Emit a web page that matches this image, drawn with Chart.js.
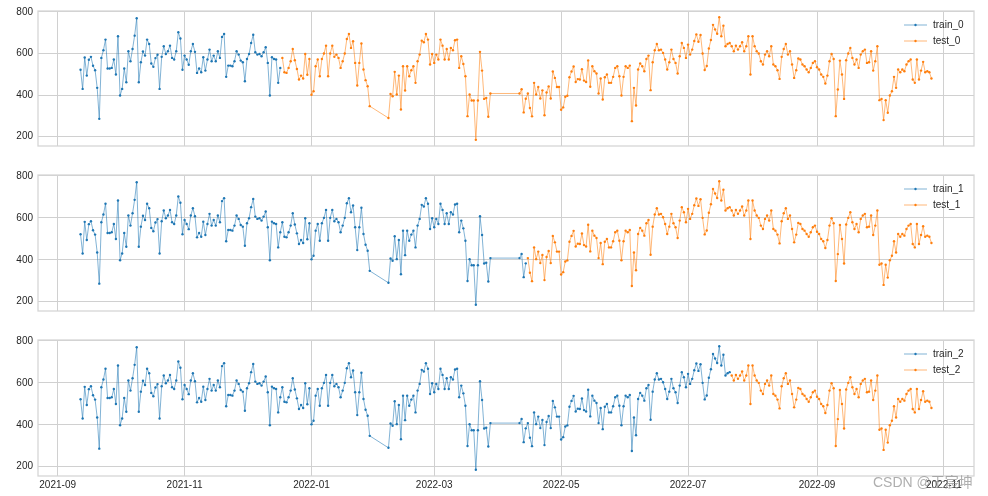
<!DOCTYPE html>
<html>
<head>
<meta charset="utf-8">
<script src="https://cdn.jsdelivr.net/npm/chart.js@4.4.1/dist/chart.umd.min.js"></script>
<style>
  html, body { margin: 0; padding: 0; background: #fff; }
  #wrap { position: relative; width: 988px; height: 496px; background: #fff; }
  #wrap canvas { position: absolute; left: 0; }
  #mark { position: absolute; left: 873px; top: 471px; font: 14px "Liberation Sans", "Noto Sans CJK SC", sans-serif; color: rgba(140,140,140,0.7); white-space: nowrap; }
</style>
</head>
<body>
<div id="wrap">
  <canvas id="c0" width="988" height="160" style="top:0px"></canvas>
  <canvas id="c1" width="988" height="161" style="top:164px"></canvas>
  <canvas id="c2" width="988" height="167" style="top:329px"></canvas>
  <div id="mark">CSDN @王宸坤</div>
</div>
<script>
// daily series, three runs of consecutive days (holiday / missing days between them)
const segStarts = ["2021-09-12", "2022-02-07", "2022-04-11"];
const segA = [
  522, 430, 581, 494, 570, 584, 541, 520, 435, 286, 579, 616, 667, 528, 528, 531, 571, 499, 683, 398,
  430, 528, 462, 611, 563, 622, 686, 770, 462, 558, 610, 590, 667, 646, 552, 536, 578, 594, 430, 584,
  635, 598, 611, 638, 579, 571, 611, 702, 672, 522, 590, 571, 546, 611, 646, 608, 507, 528,
  510, 582, 518, 571, 619, 563, 590, 563, 611, 579, 680, 694, 488, 542, 542, 539, 563, 611, 595, 566,
  558, 467, 574, 598, 651, 690, 606, 595, 598, 587, 606, 630, 555, 398, 582, 574, 571, 459, 531,
  579, 510, 507, 531, 563, 622, 568, 526, 475, 494, 480, 598, 498, 574, 402, 419, 539, 571, 491, 574,
  600, 638, 491, 600, 638, 584, 595, 579, 531, 563, 600, 670, 694, 627, 659, 555, 446, 555, 648, 523,
  472, 443, 347
];
const segB = [
  290, 406, 395, 512, 403, 494, 331, 539, 422, 539, 491, 520, 539, 459, 563, 595, 662, 654, 694, 667,
  547, 598, 555, 595, 571, 667, 638, 571, 622, 571, 627, 616, 664, 667, 531, 587, 550, 491, 299, 403,
  374, 374, 185, 374, 608, 518, 382, 386, 296, 408
];
const segC = [
  408, 428, 317, 383, 408, 338, 298, 459, 403, 439, 384, 423, 303, 413, 442, 384, 514, 483, 439, 439,
  330, 341, 392, 397, 486, 514, 538, 463, 477, 475, 525, 470, 463, 567,
  440, 539, 515, 504, 408, 480, 379, 486, 499, 459, 459, 488, 531, 539, 491, 398, 488, 539, 531, 542,
  275, 435, 350, 523, 552, 539, 515, 574, 590,
  424, 558, 616, 646, 616, 619, 603, 571, 523, 558, 619, 574, 555, 504,
  587, 651, 627, 579, 643, 595, 619, 660, 692, 657, 689, 600, 521, 540, 624, 665, 738, 716, 695, 775,
  683, 734, 635, 646, 651, 635, 611, 638, 619, 635, 654, 611, 635, 683, 499, 683, 635, 611, 600, 563,
  547, 595, 611, 587, 635, 547, 539, 520, 478, 584, 622, 646, 595, 611, 547, 483, 520, 576, 571, 547,
  539, 523, 510, 531, 555, 563, 534, 523, 499, 488, 456, 494, 563, 598, 574, 299, 427, 566, 499, 382,
  568, 600, 627, 579, 547, 571, 531, 595, 611, 619, 555, 558, 611, 518, 563, 635, 376, 382, 280, 376,
  315, 398, 419, 488, 435, 523, 510, 523, 515, 547, 563, 571, 475, 459, 571, 475, 518, 560, 510, 515,
  510, 480
];

const trainSizes = [97, 194, 292];
const seriesNames = [["train_0", "test_0"], ["train_1", "test_1"], ["train_2", "test_2"]];
const tickLabels = ["2021-09", "2021-11", "2022-01", "2022-03", "2022-05", "2022-07", "2022-09", "2022-11"];
const yTicks = [200, 400, 600, 800];

const FONT = '"Liberation Sans", Arial, sans-serif';
const DAY = 86400000;
const origin = Date.UTC(2021, 8, 1);

function dayOf(str) {
  const [y, m, d] = str.split("-").map(Number);
  return (Date.UTC(y, m - 1, d || 1) - origin) / DAY;
}

// build x/y points (x = days since 2021-09-01)
const points = [];
[segA, segB, segC].forEach((seg, i) => {
  const start = dayOf(segStarts[i]);
  seg.forEach((v, j) => points.push({ x: start + j, y: v }));
});
const tickPos = tickLabels.map(dayOf);

// matplotlib style 5% margins
const xs = points.map(p => p.x), ys = points.map(p => p.y);
const xPad = (Math.max(...xs) - Math.min(...xs)) * 0.05;
const yPad = (Math.max(...ys) - Math.min(...ys)) * 0.05;
const xMin = Math.min(...xs) - xPad, xMax = Math.max(...xs) + xPad;
const yMin = Math.min(...ys) - yPad, yMax = Math.max(...ys) + yPad;

// axes frame on all four sides
const framePlugin = {
  id: "frame",
  afterDatasetsDraw(chart) {
    const { ctx, chartArea: a } = chart;
    ctx.save();
    ctx.strokeStyle = "#d4d4d4";
    ctx.lineWidth = 1.25;
    ctx.strokeRect(a.left, a.top, a.right - a.left, a.bottom - a.top);
    ctx.restore();
  }
};

// legend inside the plot, upper right
const legendPlugin = {
  id: "innerLegend",
  afterDraw(chart) {
    const { ctx, chartArea: a } = chart;
    ctx.save();
    ctx.font = "10px " + FONT;
    ctx.textBaseline = "middle";
    chart.data.datasets.forEach((ds, i) => {
      const y = a.top + 14 + i * 16;
      const x0 = a.right - 70;
      ctx.strokeStyle = ds.borderColor;
      ctx.lineWidth = 0.8;
      ctx.beginPath();
      ctx.moveTo(x0, y);
      ctx.lineTo(x0 + 23, y);
      ctx.stroke();
      ctx.fillStyle = ds.pointBackgroundColor;
      ctx.beginPath();
      ctx.arc(x0 + 11.5, y, 1.2, 0, Math.PI * 2);
      ctx.fill();
      ctx.fillStyle = "#262626";
      ctx.fillText(ds.label, a.right - 41, y);
    });
    ctx.restore();
  }
};

function makePanel(id, k, isBottom) {
  const split = trainSizes[k];
  return new Chart(document.getElementById(id), {
    type: "line",
    data: {
      datasets: [
        {
          label: seriesNames[k][0],
          data: points.slice(0, split),
          borderColor: "rgba(31,119,180,0.7)",
          pointBackgroundColor: "#1f77b4"
        },
        {
          label: seriesNames[k][1],
          data: points.slice(split),
          borderColor: "rgba(255,127,14,0.7)",
          pointBackgroundColor: "#ff7f0e"
        }
      ]
    },
    options: {
      responsive: false,
      animation: false,
      layout: { padding: { top: 11, right: 14, left: 0, bottom: 0 } },
      plugins: { legend: { display: false }, tooltip: { enabled: false } },
      elements: {
        line: { borderWidth: 0.8, tension: 0 },
        point: { radius: 1.2, borderWidth: 0, hoverRadius: 1.2 }
      },
      scales: {
        x: {
          type: "linear",
          min: xMin,
          max: xMax,
          afterBuildTicks: s => { s.ticks = tickPos.map(v => ({ value: v })); },
          afterFit: s => { s.height = isBottom ? 20 : 14; },
          border: { display: false },
          grid: { color: "#d0d0d0", lineWidth: 1, drawTicks: false },
          ticks: {
            display: isBottom,
            autoSkip: false,
            maxRotation: 0,
            padding: 3,
            color: "#262626",
            font: { family: FONT, size: 10 },
            callback: (v, i) => tickLabels[i]
          }
        },
        y: {
          min: yMin,
          max: yMax,
          afterBuildTicks: s => { s.ticks = yTicks.map(v => ({ value: v })); },
          afterFit: s => { s.width = 38; },
          border: { display: false },
          grid: { color: "#d0d0d0", lineWidth: 1, drawTicks: false },
          ticks: {
            padding: 5,
            color: "#262626",
            font: { family: FONT, size: 10 }
          }
        }
      }
    },
    plugins: [framePlugin, legendPlugin]
  });
}

makePanel("c0", 0, false);
makePanel("c1", 1, false);
makePanel("c2", 2, true);
</script>
</body>
</html>
